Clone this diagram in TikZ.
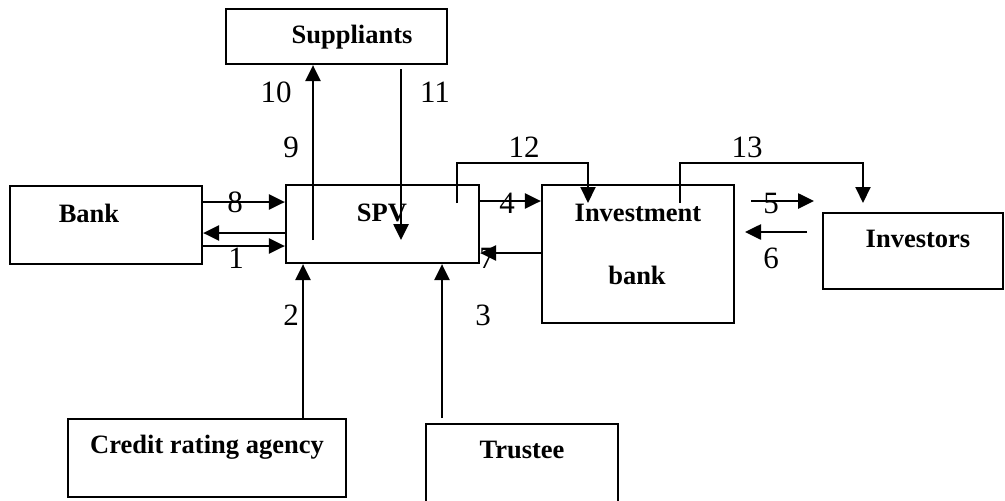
\documentclass[tikz,border=0pt]{standalone}
\usepackage{fontspec}
\setmainfont{Liberation Serif}
\usetikzlibrary{arrows.meta}
\tikzset{
  box/.style={draw=black, line width=2.2pt, rectangle, inner sep=0pt},
  boxtext/.style={inner sep=0pt, font=\fontsize{26.5}{30}\selectfont\bfseries},
  num/.style={inner sep=0pt, font=\fontsize{31}{34}\selectfont},
  arr/.style={line width=2.6pt, -{Triangle[length=16pt,width=15pt]}},
  elbow/.style={line width=2pt, -{Triangle[length=16pt,width=15pt]}},
}
\begin{document}
\begin{tikzpicture}[x=1pt,y=-1pt]
\useasboundingbox (0,0) rectangle (1005,501);
\begin{scope}
\clip (0,0) rectangle (1005,501);
% boxes
\node[box, minimum width=192pt, minimum height=78pt] (bank) at (106,225) {};
\node[box, minimum width=193pt, minimum height=78pt] (spv) at (382.5,224) {};
\node[box, minimum width=221pt, minimum height=55pt] (sup) at (336.5,36.5) {};
\node[box, minimum width=192pt, minimum height=138pt] (ib) at (638,254) {};
\node[box, minimum width=180pt, minimum height=76pt] (inv) at (913,251) {};
\node[box, minimum width=278pt, minimum height=78pt] (cra) at (207,458) {};
\node[box, minimum width=192pt, minimum height=78pt] (tru) at (522,463) {};
\end{scope}
% box texts
\node[boxtext] (bankT) at (89,213) {Bank};
\node[boxtext] (spvT) at (382,213) {SPV};
\node[boxtext] (supT) at (352,37) {Suppliants};
\node[boxtext] (ibT1) at (638,213) {Investment};
\node[boxtext] (ibT2) at (637,275) {bank};
\node[boxtext] (invT) at (918,239) {Investors};
\node[boxtext] (craT) at (207,447) {Credit rating agency};
\node[boxtext] (truT) at (522,450) {Trustee};
% numbers
\node[num] (n1) at (236,258) {1};
\node[num] (n2) at (291,315) {2};
\node[num] (n3) at (483,315) {3};
\node[num] (n4) at (507,203) {4};
\node[num] (n5) at (771,203) {5};
\node[num] (n6) at (771,258) {6};
\node[num] (n7) at (487,258) {7};
\node[num] (n8) at (235,202) {8};
\node[num] (n9) at (291,147) {9};
\node[num] (n10) at (276,92) {10};
\node[num] (n11) at (435,92) {11};
\node[num] (n12) at (524,147) {12};
\node[num] (n13) at (747,147) {13};
% helper coordinates
\coordinate (y8) at (0,202);
\coordinate (yb) at (0,233);
\coordinate (y1) at (0,246);
\coordinate (y4) at (0,201);
\coordinate (y7) at (0,253);
\coordinate (s9) at (313,240);
\coordinate (s11) at (401,69);
\coordinate (e11) at (401,240);
\coordinate (s12) at (457,203);
\coordinate (t12) at (588,203);
\coordinate (s13) at (680,203);
\coordinate (t13) at (863,203);
\coordinate (s5) at (751,201);
\coordinate (e5) at (814,201);
\coordinate (s6) at (807,232);
\coordinate (e6) at (745,232);
\coordinate (s3) at (442,418);
% connectors
\draw[arr] (bank.east |- y8) -- (spv.west |- y8);
\draw[arr] (spv.west |- yb) -- (bank.east |- yb);
\draw[arr] (bank.east |- y1) -- (spv.west |- y1);
\draw[arr] (s9) -- (s9 |- sup.south);
\draw[arr] (s11) -- (e11);
\draw[elbow] (s12) -- (457,163) -- (588,163) -- (t12);
\draw[arr] (spv.east |- y4) -- (ib.west |- y4);
\draw[arr] (ib.west |- y7) -- (spv.east |- y7);
\draw[elbow] (s13) -- (680,163) -- (863,163) -- (t13);
\draw[arr] (s5) -- (e5);
\draw[arr] (s6) -- (e6);
\draw[arr] (cra.north -| 303,0) -- (spv.south -| 303,0);
\draw[arr] (s3) -- (spv.south -| s3);
\end{tikzpicture}
\end{document}
